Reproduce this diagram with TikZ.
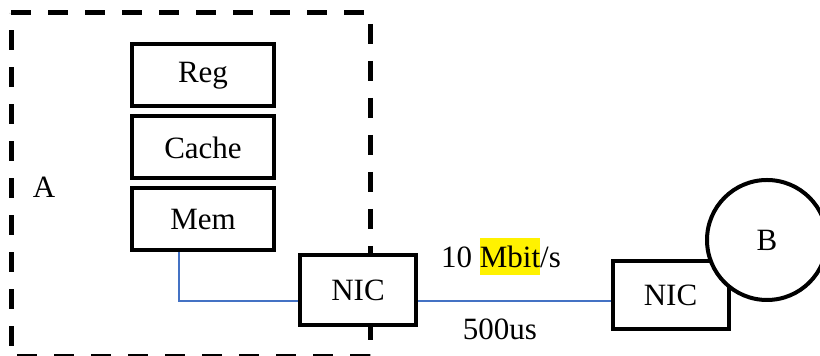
\documentclass[tikz,border=0pt]{standalone}
\usepackage{fontspec}
\setmainfont{Liberation Serif}
\usetikzlibrary{positioning}
\definecolor{wire}{RGB}{68,114,196}

\begin{document}
\begin{tikzpicture}[x=0.5pt, y=-0.5pt, font=\fontsize{15.5}{18}\selectfont,
  membox/.style={rectangle,draw,line width=2pt,fill=white,minimum width=71pt,minimum height=31pt},
  nicbox/.style={rectangle,draw,line width=2pt,fill=white,minimum width=58pt,minimum height=35pt},
  link/.style={draw=wire,line width=0.75pt}]
\useasboundingbox (0,0) rectangle (820,356);
% host A
\draw[line width=2.5pt, dash pattern=on 10pt off 8.5pt] (11,13) -- (370,13) -- (370,357) -- (11,357) -- cycle;
\node (lblA) at (44,187) {A};
\node[membox] (reg) at (203,75.5) {Reg};
\node[membox, below=3pt of reg] (cache) {Cache};
\node[membox, below=3pt of cache] (mem) {Mem};
\node[nicbox] (nicA) at (358,290) {NIC};
% host B
\node[nicbox, minimum height=34pt] (nicB) at (670.5,295) {NIC};
\node[circle,draw,line width=2pt,fill=white,minimum size=60pt] (hostB) at (767,240) {B};
% wires
\draw[link] ([xshift=-12pt]mem.south) |- ([yshift=-5.5pt]nicA.west);
\draw[link] ([yshift=-5.5pt]nicA.east) -- ([yshift=-5.5pt]nicA.east -| nicB.west);
\node (rate) at (501,257) {10 {\setlength\fboxsep{0pt}\colorbox{yellow}{\rule[-4pt]{0pt}{18.5pt}Mbit}}/s};
\node (delay) at (500,329) {500us};
\end{tikzpicture}
\end{document}
